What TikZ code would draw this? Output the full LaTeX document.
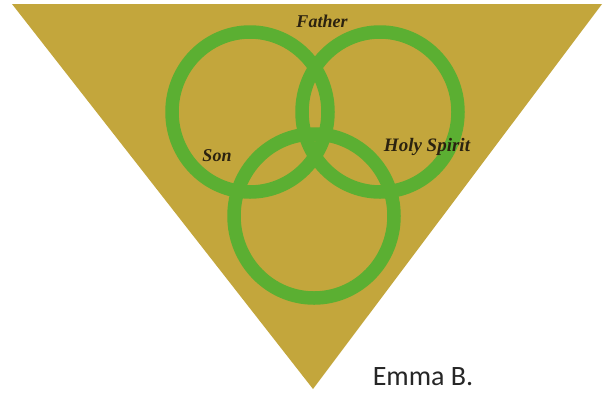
\documentclass[tikz,border=0pt]{standalone}
\usepackage{fontspec}
\setmainfont{Liberation Serif}
\newfontfamily\emmafont{Carlito}
\definecolor{gold}{HTML}{C3A63C}
\definecolor{ringgreen}{HTML}{5BAF32}
\definecolor{inkdark}{HTML}{2B2210}
\definecolor{signgrey}{HTML}{262626}
\begin{document}
\begin{tikzpicture}[x=1pt,y=-1pt,
  ring/.style={draw=ringgreen,line width=13.5pt},
  trinity/.style={font=\fontsize{18}{20}\selectfont\bfseries\itshape,text=inkdark,inner sep=0pt},
  sign/.style={font=\emmafont\fontsize{28}{30}\selectfont,text=signgrey,inner sep=0pt}]
\useasboundingbox (0,0) rectangle (604,392);
\fill[white] (0,0) rectangle (604,392);
% triangle
\coordinate (tl) at (12,4);
\coordinate (tr) at (602,4);
\coordinate (apex) at (313,389);
\fill[gold] (tl) -- (tr) -- (apex) -- cycle;
% rings
\coordinate (cl) at (250,112);
\coordinate (cr) at (380,112);
\coordinate (cb) at (314,216);
\draw[ring] (cl) circle[x radius=78, y radius=80];
\draw[ring] (cr) circle[x radius=78, y radius=80];
\draw[ring] (cb) circle[x radius=80, y radius=82];
% labels
\node[trinity] (father) at (322,21) {Father};
\node[trinity] (son) at (217,156) {Son};
\node[trinity,font=\fontsize{19}{21}\selectfont\bfseries\itshape] (spirit) at (427,147) {Holy Spirit};
\node[sign] (emma) at (423,377) {Emma B.};
\end{tikzpicture}
\end{document}
